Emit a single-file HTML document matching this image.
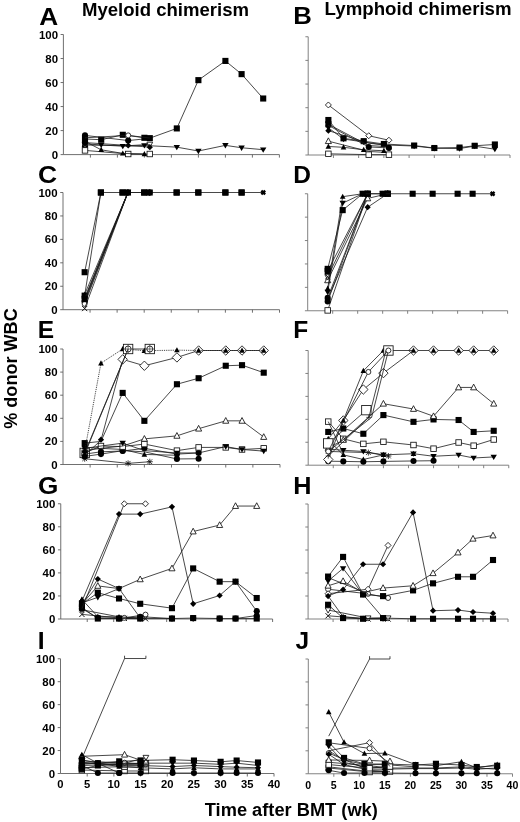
<!DOCTYPE html>
<html><head><meta charset="utf-8"><title>Chimerism figure</title>
<style>
html,body{margin:0;padding:0;background:#fff;}
body{width:520px;height:822px;overflow:hidden;}
svg{display:block;will-change:transform;}
text{font-family:"Liberation Sans",sans-serif;font-weight:bold;fill:#000;}
.t{font-size:10.6px;}
.L{font-size:24.5px;}
.T{font-size:17.6px;}
</style></head><body>
<svg width="520" height="822" viewBox="0 0 520 822">
<rect width="520" height="822" fill="#fff"/>
<g id="pA">
<path d="M63.4 34.5L63.4 154.6L279.4 154.6M60.6 154.6L63.4 154.6M60.6 130.58L63.4 130.58M60.6 106.56L63.4 106.56M60.6 82.54L63.4 82.54M60.6 58.52L63.4 58.52M60.6 34.5L63.4 34.5M90.4 154.6L90.4 157.6M117.4 154.6L117.4 157.6M144.4 154.6L144.4 157.6M171.4 154.6L171.4 157.6M198.4 154.6L198.4 157.6M225.4 154.6L225.4 157.6M252.4 154.6L252.4 157.6M279.4 154.6L279.4 157.6" stroke="#606060" stroke-width="0.9" fill="none"/>
<text class="t" transform="translate(58 158.65) scale(1.08 1)" text-anchor="end">0</text>
<text class="t" transform="translate(58 134.63) scale(1.08 1)" text-anchor="end">20</text>
<text class="t" transform="translate(58 110.61) scale(1.08 1)" text-anchor="end">40</text>
<text class="t" transform="translate(58 86.59) scale(1.08 1)" text-anchor="end">60</text>
<text class="t" transform="translate(58 62.57) scale(1.08 1)" text-anchor="end">80</text>
<text class="t" transform="translate(58 38.55) scale(1.08 1)" text-anchor="end">100</text>
<path d="M85 135.38L128.2 140.55L149.8 138.39" stroke="#1a1a1a" stroke-width="0.8" fill="none"/>
<circle cx="85" cy="135.38" r="3.05" fill="#000"/>
<circle cx="128.2" cy="140.55" r="3.05" fill="#000"/>
<circle cx="85" cy="138.99" r="3.05" fill="#000"/>
<circle cx="85" cy="146.19" r="3.05" fill="#000"/>
<path d="M85 144.99L128.2 145.71L149.8 144.39" stroke="#1a1a1a" stroke-width="0.8" fill="none"/>
<polygon points="85,148.01 82.1,142.81 87.9,142.81" fill="#fff" stroke="#111" stroke-width="0.85"/>
<polygon points="149.8,147.41 146.9,142.21 152.7,142.21" fill="#fff" stroke="#111" stroke-width="0.85"/>
<path d="M85 142.59L128.2 145.47L149.8 147.15" stroke="#1a1a1a" stroke-width="0.8" fill="none"/>
<polygon points="85,139.49 88.1,142.59 85,145.69 81.9,142.59" fill="#000"/>
<polygon points="128.2,142.37 131.3,145.47 128.2,148.57 125.1,145.47" fill="#000"/>
<polygon points="149.8,144.05 152.9,147.15 149.8,150.25 146.7,147.15" fill="#000"/>
<path d="M85 150.4L128.2 154L149.8 154" stroke="#1a1a1a" stroke-width="0.8" fill="none"/>
<rect x="82.25" y="147.65" width="5.5" height="5.5" fill="#fff" stroke="#111" stroke-width="0.85"/>
<rect x="125.45" y="151.25" width="5.5" height="5.5" fill="#fff" stroke="#111" stroke-width="0.85"/>
<rect x="147.05" y="151.25" width="5.5" height="5.5" fill="#fff" stroke="#111" stroke-width="0.85"/>
<path d="M85 141.39L101.2 149.8L122.8 153.4L144.4 154" stroke="#1a1a1a" stroke-width="0.8" fill="none"/>
<polygon points="85,138.37 82.2,143.57 87.8,143.57" fill="#000"/>
<polygon points="101.2,146.78 98.4,151.98 104,151.98" fill="#000"/>
<polygon points="122.8,150.38 120,155.58 125.6,155.58" fill="#000"/>
<polygon points="144.4,150.98 141.6,156.18 147.2,156.18" fill="#000"/>
<path d="M85 143.79L101.2 144.99L122.8 146.19L144.4 145.47L176.8 147.15L198.4 151L225.4 145.35L241.6 147.75L263.2 149.68" stroke="#1a1a1a" stroke-width="0.8" fill="none"/>
<polygon points="85,146.92 81.8,141.52 88.2,141.52" fill="#000"/>
<polygon points="101.2,148.12 98,142.72 104.4,142.72" fill="#000"/>
<polygon points="122.8,149.32 119.6,143.92 126,143.92" fill="#000"/>
<polygon points="144.4,148.6 141.2,143.2 147.6,143.2" fill="#000"/>
<polygon points="176.8,150.29 173.6,144.89 180,144.89" fill="#000"/>
<polygon points="198.4,154.13 195.2,148.73 201.6,148.73" fill="#000"/>
<polygon points="225.4,148.48 222.2,143.08 228.6,143.08" fill="#000"/>
<polygon points="241.6,150.89 238.4,145.49 244.8,145.49" fill="#000"/>
<polygon points="263.2,152.81 260,147.41 266.4,147.41" fill="#000"/>
<path d="M85 138.99L101.2 139.71L122.8 134.78L144.4 137.79L149.8 138.15L176.8 128.42L198.4 80.14L225.4 60.92L241.6 74.13L263.2 98.51" stroke="#1a1a1a" stroke-width="0.8" fill="none"/>
<rect x="81.95" y="135.94" width="6.1" height="6.1" fill="#000"/>
<rect x="98.15" y="136.66" width="6.1" height="6.1" fill="#000"/>
<rect x="119.75" y="131.73" width="6.1" height="6.1" fill="#000"/>
<rect x="141.35" y="134.74" width="6.1" height="6.1" fill="#000"/>
<rect x="146.75" y="135.1" width="6.1" height="6.1" fill="#000"/>
<rect x="173.75" y="125.37" width="6.1" height="6.1" fill="#000"/>
<rect x="195.35" y="77.09" width="6.1" height="6.1" fill="#000"/>
<rect x="222.35" y="57.87" width="6.1" height="6.1" fill="#000"/>
<rect x="238.55" y="71.08" width="6.1" height="6.1" fill="#000"/>
<rect x="260.15" y="95.46" width="6.1" height="6.1" fill="#000"/>
<path d="M85 137.79L128.2 135.38L149.8 138.03" stroke="#1a1a1a" stroke-width="0.8" fill="none"/>
<circle cx="128.2" cy="135.38" r="2.5" fill="#fff" stroke="#111" stroke-width="0.85"/>
<circle cx="85" cy="142.59" r="3.05" fill="#000"/>
</g>
<g id="pB">
<path d="M308.2 36.75L308.2 155L510 155M305.4 155L308.2 155M305.4 131.35L308.2 131.35M305.4 107.7L308.2 107.7M305.4 84.05L308.2 84.05M305.4 60.4L308.2 60.4M305.4 36.75L308.2 36.75M333.43 155L333.43 158M358.65 155L358.65 158M383.88 155L383.88 158M409.1 155L409.1 158M434.32 155L434.32 158M459.55 155L459.55 158M484.77 155L484.77 158M510 155L510 158" stroke="#747474" stroke-width="0.9" fill="none"/>
<path d="M328.38 104.98L368.74 135.73L388.92 140.22" stroke="#1a1a1a" stroke-width="0.8" fill="none"/>
<polygon points="328.38,101.98 331.38,104.98 328.38,107.98 325.38,104.98" fill="#fff" stroke="#111" stroke-width="0.85"/>
<polygon points="368.74,132.73 371.74,135.73 368.74,138.73 365.74,135.73" fill="#fff" stroke="#111" stroke-width="0.85"/>
<polygon points="388.92,137.22 391.92,140.22 388.92,143.22 385.92,140.22" fill="#fff" stroke="#111" stroke-width="0.85"/>
<path d="M328.38 130.64L368.74 143.18L388.92 145.54" stroke="#1a1a1a" stroke-width="0.8" fill="none"/>
<polygon points="328.38,127.54 331.48,130.64 328.38,133.74 325.28,130.64" fill="#000"/>
<path d="M328.38 141.16L368.74 151.45L388.92 152.63" stroke="#1a1a1a" stroke-width="0.8" fill="none"/>
<polygon points="328.38,137.86 325.33,143.56 331.43,143.56" fill="#fff" stroke="#111" stroke-width="0.85"/>
<path d="M328.38 153.82L368.74 154.65L388.92 154.65" stroke="#1a1a1a" stroke-width="0.8" fill="none"/>
<rect x="325.63" y="151.07" width="5.5" height="5.5" fill="#fff" stroke="#111" stroke-width="0.85"/>
<rect x="365.99" y="151.9" width="5.5" height="5.5" fill="#fff" stroke="#111" stroke-width="0.85"/>
<rect x="386.17" y="151.9" width="5.5" height="5.5" fill="#fff" stroke="#111" stroke-width="0.85"/>
<path d="M328.38 146.49L343.51 147.31L363.69 149.8L383.88 150.74" stroke="#1a1a1a" stroke-width="0.8" fill="none"/>
<polygon points="328.38,143.47 325.58,148.67 331.18,148.67" fill="#000"/>
<polygon points="343.51,144.3 340.71,149.5 346.31,149.5" fill="#000"/>
<polygon points="363.69,146.78 360.89,151.98 366.5,151.98" fill="#000"/>
<polygon points="383.88,147.73 381.07,152.93 386.68,152.93" fill="#000"/>
<path d="M328.38 127.8L343.51 139.04L363.69 141.99L383.88 144.95L414.14 146.01L434.32 148.26L459.55 148.5L474.68 146.13L494.87 149.21" stroke="#1a1a1a" stroke-width="0.8" fill="none"/>
<polygon points="328.38,130.93 325.18,125.53 331.58,125.53" fill="#000"/>
<polygon points="343.51,142.17 340.31,136.77 346.71,136.77" fill="#000"/>
<polygon points="363.69,145.12 360.5,139.72 366.89,139.72" fill="#000"/>
<polygon points="383.88,148.08 380.68,142.68 387.07,142.68" fill="#000"/>
<polygon points="414.14,149.15 410.94,143.75 417.34,143.75" fill="#000"/>
<polygon points="434.32,151.39 431.12,145.99 437.52,145.99" fill="#000"/>
<polygon points="459.55,151.63 456.35,146.23 462.75,146.23" fill="#000"/>
<polygon points="474.68,149.26 471.48,143.86 477.88,143.86" fill="#000"/>
<polygon points="494.87,152.34 491.67,146.94 498.06,146.94" fill="#000"/>
<path d="M328.38 120L343.51 138.33L363.69 141.16L383.88 144L414.14 145.54L434.32 148.02L459.55 147.55L474.68 145.78L494.87 144.48" stroke="#1a1a1a" stroke-width="0.8" fill="none"/>
<rect x="325.33" y="116.95" width="6.1" height="6.1" fill="#000"/>
<rect x="340.46" y="135.28" width="6.1" height="6.1" fill="#000"/>
<rect x="360.64" y="138.11" width="6.1" height="6.1" fill="#000"/>
<rect x="380.82" y="140.95" width="6.1" height="6.1" fill="#000"/>
<rect x="411.09" y="142.49" width="6.1" height="6.1" fill="#000"/>
<rect x="431.27" y="144.97" width="6.1" height="6.1" fill="#000"/>
<rect x="456.5" y="144.5" width="6.1" height="6.1" fill="#000"/>
<rect x="471.63" y="142.73" width="6.1" height="6.1" fill="#000"/>
<rect x="491.81" y="141.43" width="6.1" height="6.1" fill="#000"/>
<path d="M328.38 124.25L368.74 145.54L388.92 146.72" stroke="#1a1a1a" stroke-width="0.8" fill="none"/>
<rect x="325.33" y="121.2" width="6.1" height="6.1" fill="#000"/>
<path d="M328.38 125.44L368.74 146.96L388.92 147.91" stroke="#1a1a1a" stroke-width="0.8" fill="none"/>
<circle cx="368.74" cy="146.96" r="3.05" fill="#000"/>
<circle cx="388.92" cy="147.91" r="3.05" fill="#000"/>
</g>
<g id="pC">
<path d="M63 192.5L63 309.7L279.5 309.7M60.2 309.7L63 309.7M60.2 286.26L63 286.26M60.2 262.82L63 262.82M60.2 239.38L63 239.38M60.2 215.94L63 215.94M60.2 192.5L63 192.5M90.06 309.7L90.06 312.7M117.12 309.7L117.12 312.7M144.19 309.7L144.19 312.7M171.25 309.7L171.25 312.7M198.31 309.7L198.31 312.7M225.38 309.7L225.38 312.7M252.44 309.7L252.44 312.7M279.5 309.7L279.5 312.7" stroke="#606060" stroke-width="0.9" fill="none"/>
<text class="t" transform="translate(57.6 313.75) scale(1.08 1)" text-anchor="end">0</text>
<text class="t" transform="translate(57.6 290.31) scale(1.08 1)" text-anchor="end">20</text>
<text class="t" transform="translate(57.6 266.87) scale(1.08 1)" text-anchor="end">40</text>
<text class="t" transform="translate(57.6 243.43) scale(1.08 1)" text-anchor="end">60</text>
<text class="t" transform="translate(57.6 219.99) scale(1.08 1)" text-anchor="end">80</text>
<text class="t" transform="translate(57.6 196.55) scale(1.08 1)" text-anchor="end">100</text>
<path d="M84.65 294.46L127.95 192.5L149.6 192.5" stroke="#1a1a1a" stroke-width="0.8" fill="none"/>
<polygon points="84.65,291.45 81.85,296.65 87.45,296.65" fill="#000"/>
<polygon points="127.95,189.48 125.15,194.68 130.75,194.68" fill="#000"/>
<polygon points="149.6,189.48 146.8,194.68 152.4,194.68" fill="#000"/>
<path d="M84.65 297.98L127.95 192.5" stroke="#1a1a1a" stroke-width="0.8" fill="none"/>
<polygon points="84.65,301.11 81.45,295.71 87.85,295.71" fill="#000"/>
<polygon points="127.95,195.63 124.75,190.23 131.15,190.23" fill="#000"/>
<polygon points="149.6,195.63 146.4,190.23 152.8,190.23" fill="#000"/>
<path d="M84.65 300.32L127.95 192.5" stroke="#1a1a1a" stroke-width="0.8" fill="none"/>
<polygon points="84.65,297.22 87.75,300.32 84.65,303.42 81.55,300.32" fill="#000"/>
<polygon points="127.95,189.4 131.05,192.5 127.95,195.6 124.85,192.5" fill="#000"/>
<polygon points="149.6,189.4 152.7,192.5 149.6,195.6 146.5,192.5" fill="#000"/>
<path d="M84.65 302.08L127.95 192.5" stroke="#1a1a1a" stroke-width="0.8" fill="none"/>
<circle cx="84.65" cy="302.08" r="3.05" fill="#000"/>
<circle cx="127.95" cy="192.5" r="3.05" fill="#000"/>
<circle cx="149.6" cy="192.5" r="3.05" fill="#000"/>
<path d="M84.65 303.84L127.95 192.5" stroke="#1a1a1a" stroke-width="0.8" fill="none"/>
<circle cx="84.65" cy="303.84" r="2.5" fill="#fff" stroke="#111" stroke-width="0.85"/>
<circle cx="127.95" cy="192.5" r="2.5" fill="#fff" stroke="#111" stroke-width="0.85"/>
<circle cx="149.6" cy="192.5" r="2.5" fill="#fff" stroke="#111" stroke-width="0.85"/>
<path d="M84.65 308.53L127.95 192.5" stroke="#1a1a1a" stroke-width="0.8" fill="none"/>
<path d="M82.05 305.93L87.25 311.13M82.05 311.13L87.25 305.93" stroke="#111" stroke-width="1" fill="none"/>
<path d="M125.35 189.9L130.55 195.1M125.35 195.1L130.55 189.9" stroke="#111" stroke-width="1" fill="none"/>
<path d="M147 189.9L152.2 195.1M147 195.1L152.2 189.9" stroke="#111" stroke-width="1" fill="none"/>
<path d="M84.65 295.64L100.89 192.5L122.54 192.5L144.19 192.5L176.66 192.5L198.31 192.5L225.38 192.5L241.61 192.5L263.26 192.5" stroke="#1a1a1a" stroke-width="0.8" fill="none"/>
<rect x="81.6" y="292.59" width="6.1" height="6.1" fill="#000"/>
<rect x="97.84" y="189.45" width="6.1" height="6.1" fill="#000"/>
<rect x="119.49" y="189.45" width="6.1" height="6.1" fill="#000"/>
<rect x="141.14" y="189.45" width="6.1" height="6.1" fill="#000"/>
<rect x="173.61" y="189.45" width="6.1" height="6.1" fill="#000"/>
<rect x="195.26" y="189.45" width="6.1" height="6.1" fill="#000"/>
<rect x="222.32" y="189.45" width="6.1" height="6.1" fill="#000"/>
<rect x="238.56" y="189.45" width="6.1" height="6.1" fill="#000"/>
<path d="M84.65 272.2L100.89 192.5" stroke="#1a1a1a" stroke-width="0.8" fill="none"/>
<rect x="81.6" y="269.15" width="6.1" height="6.1" fill="#000"/>
<rect x="97.84" y="189.45" width="6.1" height="6.1" fill="#000"/>
<rect x="119.49" y="189.45" width="6.1" height="6.1" fill="#000"/>
<rect x="141.14" y="189.45" width="6.1" height="6.1" fill="#000"/>
<rect x="173.61" y="189.45" width="6.1" height="6.1" fill="#000"/>
<rect x="195.26" y="189.45" width="6.1" height="6.1" fill="#000"/>
<rect x="222.32" y="189.45" width="6.1" height="6.1" fill="#000"/>
<rect x="238.56" y="189.45" width="6.1" height="6.1" fill="#000"/>
<path d="M84.65 299.15L127.95 192.5" stroke="#1a1a1a" stroke-width="0.8" fill="none"/>
<rect x="81.6" y="296.1" width="6.1" height="6.1" fill="#000"/>
<rect x="124.9" y="189.45" width="6.1" height="6.1" fill="#000"/>
<rect x="146.55" y="189.45" width="6.1" height="6.1" fill="#000"/>
<path d="M261.36 190.6L265.16 194.4M261.36 194.4L265.16 190.6" stroke="#000" stroke-width="2.3" fill="none"/>
</g>
<g id="pD">
<path d="M307.7 193.75L307.7 310.75L507.6 310.75M304.9 310.75L307.7 310.75M304.9 287.35L307.7 287.35M304.9 263.95L307.7 263.95M304.9 240.55L307.7 240.55M304.9 217.15L307.7 217.15M304.9 193.75L307.7 193.75M332.69 310.75L332.69 313.75M357.68 310.75L357.68 313.75M382.66 310.75L382.66 313.75M407.65 310.75L407.65 313.75M432.64 310.75L432.64 313.75M457.62 310.75L457.62 313.75M482.61 310.75L482.61 313.75M507.6 310.75L507.6 313.75" stroke="#747474" stroke-width="0.9" fill="none"/>
<path d="M327.69 310.4L367.67 193.75L387.66 193.75" stroke="#1a1a1a" stroke-width="0.8" fill="none"/>
<rect x="324.94" y="307.65" width="5.5" height="5.5" fill="#fff" stroke="#111" stroke-width="0.85"/>
<rect x="364.92" y="191" width="5.5" height="5.5" fill="#fff" stroke="#111" stroke-width="0.85"/>
<rect x="384.91" y="191" width="5.5" height="5.5" fill="#fff" stroke="#111" stroke-width="0.85"/>
<path d="M327.69 301.39L367.67 193.75" stroke="#1a1a1a" stroke-width="0.8" fill="none"/>
<circle cx="327.69" cy="301.39" r="3.05" fill="#000"/>
<circle cx="367.67" cy="193.75" r="3.05" fill="#000"/>
<circle cx="387.66" cy="193.75" r="3.05" fill="#000"/>
<path d="M327.69 297.88L367.67 193.75" stroke="#1a1a1a" stroke-width="0.8" fill="none"/>
<circle cx="327.69" cy="297.88" r="3.05" fill="#000"/>
<circle cx="367.67" cy="193.75" r="3.05" fill="#000"/>
<circle cx="387.66" cy="193.75" r="3.05" fill="#000"/>
<path d="M327.69 299.05L367.67 207.21L387.66 193.75" stroke="#1a1a1a" stroke-width="0.8" fill="none"/>
<polygon points="327.69,295.95 330.79,299.05 327.69,302.15 324.59,299.05" fill="#000"/>
<polygon points="367.67,204.11 370.77,207.21 367.67,210.31 364.57,207.21" fill="#000"/>
<polygon points="387.66,190.65 390.76,193.75 387.66,196.85 384.56,193.75" fill="#000"/>
<path d="M327.69 280.33L367.67 198.43L387.66 193.75" stroke="#1a1a1a" stroke-width="0.8" fill="none"/>
<polygon points="327.69,277.02 324.64,282.72 330.74,282.72" fill="#fff" stroke="#111" stroke-width="0.85"/>
<polygon points="367.67,195.12 364.62,200.82 370.72,200.82" fill="#fff" stroke="#111" stroke-width="0.85"/>
<polygon points="387.66,190.44 384.61,196.14 390.71,196.14" fill="#fff" stroke="#111" stroke-width="0.85"/>
<path d="M327.69 276.82L367.67 193.75" stroke="#1a1a1a" stroke-width="0.8" fill="none"/>
<polygon points="327.69,279.84 324.79,274.64 330.59,274.64" fill="#fff" stroke="#111" stroke-width="0.85"/>
<polygon points="367.67,196.77 364.77,191.57 370.57,191.57" fill="#fff" stroke="#111" stroke-width="0.85"/>
<polygon points="387.66,196.77 384.76,191.57 390.56,191.57" fill="#fff" stroke="#111" stroke-width="0.85"/>
<path d="M325.09 274.22L330.29 279.42M325.09 279.42L330.29 274.22" stroke="#111" stroke-width="1" fill="none"/>
<path d="M365.07 191.15L370.27 196.35M365.07 196.35L370.27 191.15" stroke="#111" stroke-width="1" fill="none"/>
<path d="M385.06 191.15L390.26 196.35M385.06 196.35L390.26 191.15" stroke="#111" stroke-width="1" fill="none"/>
<path d="M327.69 270.97L367.67 193.75" stroke="#1a1a1a" stroke-width="0.8" fill="none"/>
<rect x="324.64" y="267.92" width="6.1" height="6.1" fill="#000"/>
<rect x="364.62" y="190.7" width="6.1" height="6.1" fill="#000"/>
<rect x="384.61" y="190.7" width="6.1" height="6.1" fill="#000"/>
<path d="M327.69 292.03L342.68 203.11L362.67 193.75L382.66 193.75" stroke="#1a1a1a" stroke-width="0.8" fill="none"/>
<polygon points="327.69,295.16 324.49,289.76 330.89,289.76" fill="#000"/>
<polygon points="342.68,206.24 339.48,200.84 345.88,200.84" fill="#000"/>
<polygon points="362.67,196.88 359.47,191.48 365.87,191.48" fill="#000"/>
<polygon points="382.66,196.88 379.46,191.48 385.86,191.48" fill="#000"/>
<path d="M327.69 288.52L342.68 196.68L362.67 193.75" stroke="#1a1a1a" stroke-width="0.8" fill="none"/>
<polygon points="327.69,285.5 324.89,290.7 330.49,290.7" fill="#000"/>
<polygon points="342.68,193.66 339.88,198.86 345.48,198.86" fill="#000"/>
<polygon points="362.67,190.73 359.87,195.93 365.47,195.93" fill="#000"/>
<polygon points="382.66,190.73 379.86,195.93 385.46,195.93" fill="#000"/>
<path d="M327.69 268.86L342.68 210.13L362.67 193.75M382.66 193.75L412.65 193.75L432.64 193.75L457.62 193.75L472.62 193.75L492.61 193.75" stroke="#1a1a1a" stroke-width="0.8" fill="none"/>
<rect x="324.64" y="265.81" width="6.1" height="6.1" fill="#000"/>
<rect x="339.63" y="207.08" width="6.1" height="6.1" fill="#000"/>
<rect x="359.62" y="190.7" width="6.1" height="6.1" fill="#000"/>
<rect x="379.61" y="190.7" width="6.1" height="6.1" fill="#000"/>
<rect x="409.6" y="190.7" width="6.1" height="6.1" fill="#000"/>
<rect x="429.59" y="190.7" width="6.1" height="6.1" fill="#000"/>
<rect x="454.57" y="190.7" width="6.1" height="6.1" fill="#000"/>
<rect x="469.57" y="190.7" width="6.1" height="6.1" fill="#000"/>
<path d="M490.71 191.85L494.51 195.65M490.71 195.65L494.51 191.85" stroke="#000" stroke-width="2.3" fill="none"/>
</g>
<g id="pE">
<path d="M63 349L63 464.5L280 464.5M60.2 464.5L63 464.5M60.2 441.4L63 441.4M60.2 418.3L63 418.3M60.2 395.2L63 395.2M60.2 372.1L63 372.1M60.2 349L63 349M90.12 464.5L90.12 467.5M117.25 464.5L117.25 467.5M144.38 464.5L144.38 467.5M171.5 464.5L171.5 467.5M198.62 464.5L198.62 467.5M225.75 464.5L225.75 467.5M252.88 464.5L252.88 467.5M280 464.5L280 467.5" stroke="#606060" stroke-width="0.9" fill="none"/>
<text class="t" transform="translate(57.6 468.55) scale(1.08 1)" text-anchor="end">0</text>
<text class="t" transform="translate(57.6 445.45) scale(1.08 1)" text-anchor="end">20</text>
<text class="t" transform="translate(57.6 422.35) scale(1.08 1)" text-anchor="end">40</text>
<text class="t" transform="translate(57.6 399.25) scale(1.08 1)" text-anchor="end">60</text>
<text class="t" transform="translate(57.6 376.15) scale(1.08 1)" text-anchor="end">80</text>
<text class="t" transform="translate(57.6 353.05) scale(1.08 1)" text-anchor="end">100</text>
<rect x="80" y="448.25" width="9.4" height="9.4" fill="#fff" stroke="#111" stroke-width="0.85"/>
<path d="M84.7 458.73L128.1 463.35L149.8 461.73" stroke="#1a1a1a" stroke-width="0.8" fill="none"/>
<path d="M82.3 456.33L87.1 461.12M82.3 461.12L87.1 456.33M84.7 455.73L84.7 461.73M81.7 458.73L87.7 458.73" stroke="#111" stroke-width="0.8" fill="none"/>
<path d="M125.7 460.95L130.5 465.75M125.7 465.75L130.5 460.95M128.1 460.35L128.1 466.35M125.1 463.35L131.1 463.35" stroke="#111" stroke-width="0.8" fill="none"/>
<path d="M147.4 459.33L152.2 464.13M147.4 464.13L152.2 459.33M149.8 458.73L149.8 464.73M146.8 461.73L152.8 461.73" stroke="#111" stroke-width="0.8" fill="none"/>
<path d="M84.7 456.42L100.97 454.11L122.67 450.64L144.38 451.8L176.93 458.96L198.62 458.73" stroke="#1a1a1a" stroke-width="0.8" fill="none"/>
<circle cx="84.7" cy="456.42" r="3.05" fill="#000"/>
<circle cx="100.97" cy="454.11" r="3.05" fill="#000"/>
<circle cx="122.67" cy="450.64" r="3.05" fill="#000"/>
<circle cx="176.93" cy="458.96" r="3.05" fill="#000"/>
<circle cx="198.62" cy="458.73" r="3.05" fill="#000"/>
<path d="M84.7 454.11L100.97 451.8L122.67 450.99L144.38 448.33L176.93 454.11L198.62 452.95" stroke="#1a1a1a" stroke-width="0.8" fill="none"/>
<circle cx="84.7" cy="454.11" r="3.05" fill="#000"/>
<circle cx="100.97" cy="451.8" r="3.05" fill="#000"/>
<circle cx="122.67" cy="450.99" r="3.05" fill="#000"/>
<circle cx="144.38" cy="448.33" r="3.05" fill="#000"/>
<circle cx="176.93" cy="454.11" r="3.05" fill="#000"/>
<circle cx="198.62" cy="452.95" r="3.05" fill="#000"/>
<path d="M84.7 447.18L100.97 448.33L122.67 449.49L144.38 454.45L176.93 455.26" stroke="#1a1a1a" stroke-width="0.8" fill="none"/>
<polygon points="84.7,444.16 81.9,449.36 87.5,449.36" fill="#000"/>
<polygon points="144.38,451.44 141.57,456.64 147.18,456.64" fill="#000"/>
<polygon points="176.93,452.24 174.12,457.44 179.73,457.44" fill="#000"/>
<path d="M84.7 452.95L100.97 446.02L122.67 446.6L144.38 444.06L176.93 450.64L198.62 447.41L225.75 447.41L242.03 449.49L263.73 448.33" stroke="#1a1a1a" stroke-width="0.8" fill="none"/>
<rect x="81.95" y="450.2" width="5.5" height="5.5" fill="#fff" stroke="#111" stroke-width="0.85"/>
<rect x="98.22" y="443.27" width="5.5" height="5.5" fill="#fff" stroke="#111" stroke-width="0.85"/>
<rect x="119.92" y="443.85" width="5.5" height="5.5" fill="#fff" stroke="#111" stroke-width="0.85"/>
<rect x="141.62" y="441.31" width="5.5" height="5.5" fill="#fff" stroke="#111" stroke-width="0.85"/>
<rect x="174.18" y="447.89" width="5.5" height="5.5" fill="#fff" stroke="#111" stroke-width="0.85"/>
<rect x="195.88" y="444.66" width="5.5" height="5.5" fill="#fff" stroke="#111" stroke-width="0.85"/>
<rect x="223" y="444.66" width="5.5" height="5.5" fill="#fff" stroke="#111" stroke-width="0.85"/>
<rect x="239.28" y="446.74" width="5.5" height="5.5" fill="#fff" stroke="#111" stroke-width="0.85"/>
<rect x="260.98" y="445.58" width="5.5" height="5.5" fill="#fff" stroke="#111" stroke-width="0.85"/>
<path d="M84.7 448.33L100.97 446.02L122.67 443.13L144.38 450.64L176.93 452.95L198.62 452.95L225.75 446.6L242.03 449.49L263.73 451.1" stroke="#1a1a1a" stroke-width="0.8" fill="none"/>
<polygon points="84.7,451.46 81.5,446.06 87.9,446.06" fill="#000"/>
<polygon points="122.67,446.26 119.47,440.86 125.88,440.86" fill="#000"/>
<polygon points="176.93,456.08 173.73,450.68 180.12,450.68" fill="#000"/>
<polygon points="198.62,456.08 195.43,450.68 201.82,450.68" fill="#000"/>
<polygon points="225.75,449.73 222.55,444.33 228.95,444.33" fill="#000"/>
<polygon points="242.03,452.62 238.83,447.22 245.22,447.22" fill="#000"/>
<polygon points="263.73,454.23 260.53,448.83 266.93,448.83" fill="#000"/>
<path d="M84.7 450.64L100.97 448.33L122.67 446.02L144.38 438.86L176.93 435.86L198.62 428.69L225.75 420.84L242.03 420.84L263.73 437.01" stroke="#1a1a1a" stroke-width="0.8" fill="none"/>
<polygon points="144.38,435.55 141.32,441.25 147.43,441.25" fill="#fff" stroke="#111" stroke-width="0.85"/>
<polygon points="176.93,432.55 173.88,438.25 179.98,438.25" fill="#fff" stroke="#111" stroke-width="0.85"/>
<polygon points="198.62,425.39 195.57,431.09 201.68,431.09" fill="#fff" stroke="#111" stroke-width="0.85"/>
<polygon points="225.75,417.54 222.7,423.24 228.8,423.24" fill="#fff" stroke="#111" stroke-width="0.85"/>
<polygon points="242.03,417.54 238.97,423.24 245.08,423.24" fill="#fff" stroke="#111" stroke-width="0.85"/>
<polygon points="263.73,433.71 260.68,439.41 266.78,439.41" fill="#fff" stroke="#111" stroke-width="0.85"/>
<path d="M84.7 443.13L100.97 441.4L122.67 392.89L144.38 420.84L176.93 384.23L198.62 378.22L225.75 365.75L242.03 365.17L263.73 372.68" stroke="#1a1a1a" stroke-width="0.8" fill="none"/>
<rect x="81.65" y="440.08" width="6.1" height="6.1" fill="#000"/>
<rect x="119.62" y="389.84" width="6.1" height="6.1" fill="#000"/>
<rect x="141.32" y="417.79" width="6.1" height="6.1" fill="#000"/>
<rect x="173.88" y="381.18" width="6.1" height="6.1" fill="#000"/>
<rect x="195.57" y="375.17" width="6.1" height="6.1" fill="#000"/>
<rect x="222.7" y="362.7" width="6.1" height="6.1" fill="#000"/>
<rect x="238.97" y="362.12" width="6.1" height="6.1" fill="#000"/>
<rect x="260.68" y="369.63" width="6.1" height="6.1" fill="#000"/>
<path d="M84.7 455.26L100.97 440.25L122.67 359.39L144.38 365.75L176.93 357.43L198.62 350.5L225.75 350.5L242.03 350.5L263.73 350.5" stroke="#1a1a1a" stroke-width="0.8" fill="none"/>
<polygon points="122.67,354.69 127.38,359.39 122.67,364.09 117.97,359.39" fill="#fff" stroke="#111" stroke-width="0.85"/>
<polygon points="144.38,361.05 149.07,365.75 144.38,370.45 139.68,365.75" fill="#fff" stroke="#111" stroke-width="0.85"/>
<polygon points="176.93,352.73 181.62,357.43 176.93,362.13 172.23,357.43" fill="#fff" stroke="#111" stroke-width="0.85"/>
<polygon points="198.62,345.8 203.32,350.5 198.62,355.2 193.93,350.5" fill="#fff" stroke="#111" stroke-width="0.85"/>
<polygon points="225.75,345.8 230.45,350.5 225.75,355.2 221.05,350.5" fill="#fff" stroke="#111" stroke-width="0.85"/>
<polygon points="242.03,345.8 246.72,350.5 242.03,355.2 237.33,350.5" fill="#fff" stroke="#111" stroke-width="0.85"/>
<polygon points="263.73,345.8 268.43,350.5 263.73,355.2 259.03,350.5" fill="#fff" stroke="#111" stroke-width="0.85"/>
<path d="M84.7 450.64L100.97 363.21L122.67 349L144.38 350.73L176.93 350.15L198.62 350.5L225.75 350.5L242.03 350.5L263.73 350.5" stroke="#1a1a1a" stroke-width="0.8" fill="none" stroke-dasharray="1.2 1"/>
<polygon points="84.7,447.62 81.9,452.82 87.5,452.82" fill="#000"/>
<polygon points="100.97,360.19 98.17,365.39 103.77,365.39" fill="#000"/>
<polygon points="122.67,345.98 119.88,351.18 125.47,351.18" fill="#000"/>
<polygon points="144.38,347.72 141.57,352.92 147.18,352.92" fill="#000"/>
<polygon points="176.93,347.14 174.12,352.34 179.73,352.34" fill="#000"/>
<polygon points="198.62,347.49 195.82,352.69 201.43,352.69" fill="#000"/>
<polygon points="225.75,347.49 222.95,352.69 228.55,352.69" fill="#000"/>
<polygon points="242.03,347.49 239.22,352.69 244.83,352.69" fill="#000"/>
<polygon points="263.73,347.49 260.93,352.69 266.53,352.69" fill="#000"/>
<path d="M84.7 452.95L128.1 349L149.8 349" stroke="#1a1a1a" stroke-width="0.8" fill="none"/>
<rect x="123.4" y="344.3" width="9.4" height="9.4" fill="#fff" stroke="#111" stroke-width="0.85"/>
<rect x="145.1" y="344.3" width="9.4" height="9.4" fill="#fff" stroke="#111" stroke-width="0.85"/>
<path d="M84.7 454.11L128.1 349" stroke="#1a1a1a" stroke-width="0.8" fill="none"/>
<path d="M128.1 344.4L128.1 353.6M123.5 349L132.7 349" stroke="#222" stroke-width="0.6" fill="none"/><circle cx="128.1" cy="349" r="3.0" fill="none" stroke="#111" stroke-width="0.85"/>
<path d="M149.8 344.4L149.8 353.6M145.2 349L154.4 349" stroke="#222" stroke-width="0.6" fill="none"/><circle cx="149.8" cy="349" r="3.0" fill="none" stroke="#111" stroke-width="0.85"/>
<polygon points="100.97,436.57 104.07,439.67 100.97,442.77 97.88,439.67" fill="#000"/>
<polygon points="84.7,452.16 87.8,455.26 84.7,458.36 81.6,455.26" fill="#000"/>
<polygon points="84.7,448.69 87.8,451.8 84.7,454.9 81.6,451.8" fill="#000"/>
</g>
<g id="pF">
<path d="M308.2 350.5L308.2 465.2L508.75 465.2M305.4 465.2L308.2 465.2M305.4 442.26L308.2 442.26M305.4 419.32L308.2 419.32M305.4 396.38L308.2 396.38M305.4 373.44L308.2 373.44M305.4 350.5L308.2 350.5M333.27 465.2L333.27 468.2M358.34 465.2L358.34 468.2M383.41 465.2L383.41 468.2M408.48 465.2L408.48 468.2M433.54 465.2L433.54 468.2M458.61 465.2L458.61 468.2M483.68 465.2L483.68 468.2M508.75 465.2L508.75 468.2" stroke="#747474" stroke-width="0.9" fill="none"/>
<path d="M328.25 461.19L343.3 461.41L363.35 461.76L383.41 461.41L413.49 460.96L433.54 460.73" stroke="#1a1a1a" stroke-width="0.8" fill="none"/>
<circle cx="328.25" cy="461.19" r="3.05" fill="#000"/>
<circle cx="343.3" cy="461.41" r="3.05" fill="#000"/>
<circle cx="363.35" cy="461.76" r="3.05" fill="#000"/>
<circle cx="383.41" cy="461.41" r="3.05" fill="#000"/>
<circle cx="413.49" cy="460.96" r="3.05" fill="#000"/>
<circle cx="433.54" cy="460.73" r="3.05" fill="#000"/>
<path d="M328.25 451.44L368.37 452.58L388.42 456.02" stroke="#1a1a1a" stroke-width="0.8" fill="none"/>
<path d="M325.86 449.04L330.65 453.84M325.86 453.84L330.65 449.04M328.25 448.44L328.25 454.44M325.25 451.44L331.25 451.44" stroke="#111" stroke-width="0.8" fill="none"/>
<path d="M365.97 450.18L370.76 454.98M365.97 454.98L370.76 450.18M368.37 449.58L368.37 455.58M365.37 452.58L371.37 452.58" stroke="#111" stroke-width="0.8" fill="none"/>
<path d="M386.02 453.62L390.82 458.42M386.02 458.42L390.82 453.62M388.42 453.02L388.42 459.02M385.42 456.02L391.42 456.02" stroke="#111" stroke-width="0.8" fill="none"/>
<path d="M328.25 439.97L343.3 454.88L363.35 459.46L383.41 454.88L413.49 453.73" stroke="#1a1a1a" stroke-width="0.8" fill="none"/>
<polygon points="328.25,436.95 325.45,442.15 331.06,442.15" fill="#000"/>
<polygon points="343.3,451.86 340.5,457.06 346.1,457.06" fill="#000"/>
<polygon points="363.35,456.45 360.55,461.65 366.15,461.65" fill="#000"/>
<polygon points="383.41,451.86 380.61,457.06 386.21,457.06" fill="#000"/>
<polygon points="413.49,450.71 410.69,455.91 416.29,455.91" fill="#000"/>
<path d="M328.25 449.14L343.3 450.29L363.35 451.44L383.41 454.88M413.49 453.73L433.54 456.25L458.61 454.99L473.65 457.97L493.71 456.94" stroke="#1a1a1a" stroke-width="0.8" fill="none"/>
<polygon points="328.25,452.27 325.06,446.87 331.45,446.87" fill="#000"/>
<polygon points="343.3,453.42 340.1,448.02 346.5,448.02" fill="#000"/>
<polygon points="363.35,454.57 360.15,449.17 366.55,449.17" fill="#000"/>
<polygon points="383.41,458.01 380.21,452.61 386.61,452.61" fill="#000"/>
<polygon points="413.49,456.86 410.29,451.46 416.69,451.46" fill="#000"/>
<polygon points="433.54,459.39 430.34,453.99 436.74,453.99" fill="#000"/>
<polygon points="458.61,458.12 455.41,452.72 461.81,452.72" fill="#000"/>
<polygon points="473.65,461.11 470.45,455.71 476.85,455.71" fill="#000"/>
<polygon points="493.71,460.07 490.51,454.67 496.91,454.67" fill="#000"/>
<path d="M328.25 421.61L343.3 438.82L363.35 443.87L383.41 441.8L413.49 445.01L433.54 448.68L458.61 442.49L473.65 445.7L493.71 439.51" stroke="#1a1a1a" stroke-width="0.8" fill="none"/>
<rect x="325.5" y="418.86" width="5.5" height="5.5" fill="#fff" stroke="#111" stroke-width="0.85"/>
<rect x="340.55" y="436.07" width="5.5" height="5.5" fill="#fff" stroke="#111" stroke-width="0.85"/>
<rect x="360.6" y="441.12" width="5.5" height="5.5" fill="#fff" stroke="#111" stroke-width="0.85"/>
<rect x="380.66" y="439.05" width="5.5" height="5.5" fill="#fff" stroke="#111" stroke-width="0.85"/>
<rect x="410.74" y="442.26" width="5.5" height="5.5" fill="#fff" stroke="#111" stroke-width="0.85"/>
<rect x="430.79" y="445.93" width="5.5" height="5.5" fill="#fff" stroke="#111" stroke-width="0.85"/>
<rect x="455.86" y="439.74" width="5.5" height="5.5" fill="#fff" stroke="#111" stroke-width="0.85"/>
<rect x="470.9" y="442.95" width="5.5" height="5.5" fill="#fff" stroke="#111" stroke-width="0.85"/>
<rect x="490.96" y="436.76" width="5.5" height="5.5" fill="#fff" stroke="#111" stroke-width="0.85"/>
<path d="M328.25 431.94L343.3 428.5L363.35 433.77L383.41 415.08L413.49 421.84L433.54 419.43L458.61 420.01L473.65 431.94L493.71 430.79" stroke="#1a1a1a" stroke-width="0.8" fill="none"/>
<rect x="325.2" y="428.89" width="6.1" height="6.1" fill="#000"/>
<rect x="340.25" y="425.45" width="6.1" height="6.1" fill="#000"/>
<rect x="360.3" y="430.72" width="6.1" height="6.1" fill="#000"/>
<rect x="380.36" y="412.03" width="6.1" height="6.1" fill="#000"/>
<rect x="410.44" y="418.79" width="6.1" height="6.1" fill="#000"/>
<rect x="430.49" y="416.38" width="6.1" height="6.1" fill="#000"/>
<rect x="455.56" y="416.96" width="6.1" height="6.1" fill="#000"/>
<rect x="470.6" y="428.89" width="6.1" height="6.1" fill="#000"/>
<rect x="490.66" y="427.74" width="6.1" height="6.1" fill="#000"/>
<path d="M328.25 448L343.3 439.97L383.41 403.72L413.49 409L433.54 416.22L458.61 387.43L473.65 387.43L493.71 403.72" stroke="#1a1a1a" stroke-width="0.8" fill="none"/>
<polygon points="328.25,444.69 325.2,450.39 331.31,450.39" fill="#fff" stroke="#111" stroke-width="0.85"/>
<polygon points="343.3,436.66 340.25,442.36 346.35,442.36" fill="#fff" stroke="#111" stroke-width="0.85"/>
<polygon points="383.41,400.41 380.36,406.11 386.46,406.11" fill="#fff" stroke="#111" stroke-width="0.85"/>
<polygon points="413.49,405.69 410.44,411.39 416.54,411.39" fill="#fff" stroke="#111" stroke-width="0.85"/>
<polygon points="433.54,412.92 430.49,418.62 436.59,418.62" fill="#fff" stroke="#111" stroke-width="0.85"/>
<polygon points="458.61,384.13 455.56,389.83 461.66,389.83" fill="#fff" stroke="#111" stroke-width="0.85"/>
<polygon points="473.65,384.13 470.6,389.83 476.7,389.83" fill="#fff" stroke="#111" stroke-width="0.85"/>
<polygon points="493.71,400.41 490.66,406.11 496.76,406.11" fill="#fff" stroke="#111" stroke-width="0.85"/>
<path d="M328.25 459.46L343.3 420.47L363.35 389.5L383.41 373.1L413.49 350.5L433.54 350.5L458.61 350.5L473.65 350.5L493.71 350.5" stroke="#1a1a1a" stroke-width="0.8" fill="none"/>
<polygon points="328.25,454.76 332.95,459.46 328.25,464.16 323.56,459.46" fill="#fff" stroke="#111" stroke-width="0.85"/>
<polygon points="343.3,415.77 348,420.47 343.3,425.17 338.6,420.47" fill="#fff" stroke="#111" stroke-width="0.85"/>
<polygon points="363.35,384.8 368.05,389.5 363.35,394.2 358.65,389.5" fill="#fff" stroke="#111" stroke-width="0.85"/>
<polygon points="383.41,368.4 388.11,373.1 383.41,377.8 378.71,373.1" fill="#fff" stroke="#111" stroke-width="0.85"/>
<polygon points="413.49,345.8 418.19,350.5 413.49,355.2 408.79,350.5" fill="#fff" stroke="#111" stroke-width="0.85"/>
<polygon points="433.54,345.8 438.24,350.5 433.54,355.2 428.84,350.5" fill="#fff" stroke="#111" stroke-width="0.85"/>
<polygon points="458.61,345.8 463.31,350.5 458.61,355.2 453.91,350.5" fill="#fff" stroke="#111" stroke-width="0.85"/>
<polygon points="473.65,345.8 478.35,350.5 473.65,355.2 468.95,350.5" fill="#fff" stroke="#111" stroke-width="0.85"/>
<polygon points="493.71,345.8 498.41,350.5 493.71,355.2 489.01,350.5" fill="#fff" stroke="#111" stroke-width="0.85"/>
<path d="M328.25 438.82L343.3 420.47L363.35 370.8L383.41 350.5L413.49 350.5" stroke="#1a1a1a" stroke-width="0.8" fill="none"/>
<polygon points="328.25,435.8 325.45,441 331.06,441" fill="#000"/>
<polygon points="343.3,417.45 340.5,422.65 346.1,422.65" fill="#000"/>
<polygon points="363.35,367.79 360.55,372.99 366.15,372.99" fill="#000"/>
<polygon points="383.41,347.48 380.61,352.68 386.21,352.68" fill="#000"/>
<polygon points="413.49,347.48 410.69,352.68 416.29,352.68" fill="#000"/>
<polygon points="433.54,347.48 430.74,352.68 436.34,352.68" fill="#000"/>
<polygon points="458.61,347.48 455.81,352.68 461.41,352.68" fill="#000"/>
<polygon points="473.65,347.48 470.85,352.68 476.45,352.68" fill="#000"/>
<polygon points="493.71,347.48 490.91,352.68 496.51,352.68" fill="#000"/>
<path d="M328.25 443.41L366.36 410.14" stroke="#1a1a1a" stroke-width="0.8" fill="none"/>
<rect x="323.56" y="438.71" width="9.4" height="9.4" fill="#fff" stroke="#111" stroke-width="0.85"/>
<rect x="361.66" y="405.44" width="9.4" height="9.4" fill="#fff" stroke="#111" stroke-width="0.85"/>
<rect x="383.72" y="345.8" width="9.4" height="9.4" fill="#fff" stroke="#111" stroke-width="0.85"/>
<path d="M328.25 456.02L368.87 417.37L385.91 350.5" stroke="#1a1a1a" stroke-width="0.8" fill="none"/>
<path d="M328.25 453.42L328.25 458.62M325.65 456.02L330.86 456.02" stroke="#111" stroke-width="0.7" fill="none"/>
<path d="M368.87 414.77L368.87 419.97M366.27 417.37L371.47 417.37" stroke="#111" stroke-width="0.7" fill="none"/>
<path d="M328.25 451.44L371.62 417.37L388.42 350.5" stroke="#1a1a1a" stroke-width="0.8" fill="none"/>
<path d="M328.25 451.44L368.37 371.95L388.42 350.5" stroke="#1a1a1a" stroke-width="0.8" fill="none"/>
<circle cx="328.25" cy="451.44" r="2.5" fill="#fff" stroke="#111" stroke-width="0.85"/>
<circle cx="368.37" cy="371.95" r="2.5" fill="#fff" stroke="#111" stroke-width="0.85"/>
<circle cx="388.42" cy="350.5" r="2.5" fill="#fff" stroke="#111" stroke-width="0.85"/>
<path d="M328.25 421.61L343.3 453.73" stroke="#1a1a1a" stroke-width="0.8" fill="none"/>
</g>
<g id="pG">
<path d="M60.75 503.75L60.75 619L272.6 619M57.95 619L60.75 619M57.95 595.95L60.75 595.95M57.95 572.9L60.75 572.9M57.95 549.85L60.75 549.85M57.95 526.8L60.75 526.8M57.95 503.75L60.75 503.75M87.23 619L87.23 622M113.71 619L113.71 622M140.19 619L140.19 622M166.68 619L166.68 622M193.16 619L193.16 622M219.64 619L219.64 622M246.12 619L246.12 622M272.6 619L272.6 622" stroke="#606060" stroke-width="0.9" fill="none"/>
<text class="t" transform="translate(55.35 623.05) scale(1.08 1)" text-anchor="end">0</text>
<text class="t" transform="translate(55.35 600) scale(1.08 1)" text-anchor="end">20</text>
<text class="t" transform="translate(55.35 576.95) scale(1.08 1)" text-anchor="end">40</text>
<text class="t" transform="translate(55.35 553.9) scale(1.08 1)" text-anchor="end">60</text>
<text class="t" transform="translate(55.35 530.85) scale(1.08 1)" text-anchor="end">80</text>
<text class="t" transform="translate(55.35 507.8) scale(1.08 1)" text-anchor="end">100</text>
<path d="M81.94 614.39L124.31 618.42L145.49 618.77" stroke="#1a1a1a" stroke-width="0.8" fill="none"/>
<path d="M79.34 611.79L84.53 616.99M79.34 616.99L84.53 611.79" stroke="#111" stroke-width="1" fill="none"/>
<path d="M121.71 615.82L126.91 621.02M121.71 621.02L126.91 615.82" stroke="#111" stroke-width="1" fill="none"/>
<path d="M142.89 616.17L148.09 621.37M142.89 621.37L148.09 616.17" stroke="#111" stroke-width="1" fill="none"/>
<path d="M81.94 609.78L124.31 617.85L145.49 614.62" stroke="#1a1a1a" stroke-width="0.8" fill="none"/>
<circle cx="81.94" cy="609.78" r="2.5" fill="#fff" stroke="#111" stroke-width="0.85"/>
<circle cx="124.31" cy="617.85" r="2.5" fill="#fff" stroke="#111" stroke-width="0.85"/>
<circle cx="145.49" cy="614.62" r="2.5" fill="#fff" stroke="#111" stroke-width="0.85"/>
<path d="M81.94 608.63L97.82 617.85L119.01 618.42L140.19 616.7L171.97 618.54L193.16 618.08L219.64 618.54L235.53 618.54L256.71 615.54" stroke="#1a1a1a" stroke-width="0.8" fill="none"/>
<circle cx="81.94" cy="608.63" r="3.05" fill="#000"/>
<circle cx="97.82" cy="617.85" r="3.05" fill="#000"/>
<circle cx="119.01" cy="618.42" r="3.05" fill="#000"/>
<circle cx="140.19" cy="616.7" r="3.05" fill="#000"/>
<circle cx="171.97" cy="618.54" r="3.05" fill="#000"/>
<circle cx="193.16" cy="618.08" r="3.05" fill="#000"/>
<circle cx="219.64" cy="618.54" r="3.05" fill="#000"/>
<circle cx="235.53" cy="618.54" r="3.05" fill="#000"/>
<circle cx="256.71" cy="615.54" r="3.05" fill="#000"/>
<path d="M81.94 599.41L97.82 616.7L119.01 616.93L140.19 617.85" stroke="#1a1a1a" stroke-width="0.8" fill="none"/>
<polygon points="81.94,596.39 79.14,601.59 84.73,601.59" fill="#000"/>
<polygon points="97.82,613.68 95.02,618.88 100.62,618.88" fill="#000"/>
<polygon points="119.01,613.91 116.21,619.11 121.81,619.11" fill="#000"/>
<polygon points="140.19,614.83 137.39,620.03 142.99,620.03" fill="#000"/>
<path d="M81.94 607.48L97.82 618.54L119.01 618.54L140.19 618.54L171.97 618.54M235.53 618.54L256.71 618.54" stroke="#1a1a1a" stroke-width="0.8" fill="none"/>
<rect x="78.89" y="604.43" width="6.1" height="6.1" fill="#000"/>
<rect x="94.77" y="615.49" width="6.1" height="6.1" fill="#000"/>
<rect x="115.96" y="615.49" width="6.1" height="6.1" fill="#000"/>
<rect x="137.14" y="615.49" width="6.1" height="6.1" fill="#000"/>
<rect x="168.92" y="615.49" width="6.1" height="6.1" fill="#000"/>
<rect x="190.11" y="615.03" width="6.1" height="6.1" fill="#000"/>
<rect x="216.59" y="615.49" width="6.1" height="6.1" fill="#000"/>
<rect x="232.48" y="615.49" width="6.1" height="6.1" fill="#000"/>
<rect x="253.66" y="615.49" width="6.1" height="6.1" fill="#000"/>
<path d="M81.94 602.87L97.82 597.33L119.01 588.57L140.19 617.85" stroke="#1a1a1a" stroke-width="0.8" fill="none"/>
<polygon points="81.94,606 78.73,600.6 85.14,600.6" fill="#000"/>
<polygon points="97.82,600.46 94.62,595.06 101.02,595.06" fill="#000"/>
<polygon points="119.01,591.71 115.81,586.31 122.21,586.31" fill="#000"/>
<polygon points="140.19,620.98 136.99,615.58 143.39,615.58" fill="#000"/>
<path d="M81.94 604.02L97.82 579.01L119.01 588.57" stroke="#1a1a1a" stroke-width="0.8" fill="none"/>
<polygon points="81.94,600.92 85.03,604.02 81.94,607.12 78.84,604.02" fill="#000"/>
<polygon points="97.82,575.91 100.92,579.01 97.82,582.11 94.72,579.01" fill="#000"/>
<polygon points="119.01,585.47 122.11,588.57 119.01,591.67 115.91,588.57" fill="#000"/>
<polygon points="140.19,614.75 143.29,617.85 140.19,620.95 137.09,617.85" fill="#000"/>
<path d="M81.94 604.02L97.82 592.72L119.01 598.49L140.19 603.79L171.97 608.17L193.16 568.41L219.64 581.66L235.53 581.66L256.71 598.02" stroke="#1a1a1a" stroke-width="0.8" fill="none"/>
<rect x="78.89" y="600.97" width="6.1" height="6.1" fill="#000"/>
<rect x="94.77" y="589.67" width="6.1" height="6.1" fill="#000"/>
<rect x="115.96" y="595.44" width="6.1" height="6.1" fill="#000"/>
<rect x="137.14" y="600.74" width="6.1" height="6.1" fill="#000"/>
<rect x="168.92" y="605.12" width="6.1" height="6.1" fill="#000"/>
<rect x="190.11" y="565.36" width="6.1" height="6.1" fill="#000"/>
<rect x="216.59" y="578.61" width="6.1" height="6.1" fill="#000"/>
<rect x="232.48" y="578.61" width="6.1" height="6.1" fill="#000"/>
<rect x="253.66" y="594.97" width="6.1" height="6.1" fill="#000"/>
<path d="M81.94 604.02L97.82 585.92L119.01 588.57L140.19 579.35L171.97 568.41L193.16 531.53L219.64 525.07L235.53 506.06L256.71 506.06" stroke="#1a1a1a" stroke-width="0.8" fill="none"/>
<polygon points="97.82,582.62 94.77,588.32 100.87,588.32" fill="#fff" stroke="#111" stroke-width="0.85"/>
<polygon points="140.19,576.05 137.14,581.75 143.24,581.75" fill="#fff" stroke="#111" stroke-width="0.85"/>
<polygon points="171.97,565.1 168.92,570.8 175.02,570.8" fill="#fff" stroke="#111" stroke-width="0.85"/>
<polygon points="193.16,528.22 190.11,533.92 196.21,533.92" fill="#fff" stroke="#111" stroke-width="0.85"/>
<polygon points="219.64,521.77 216.59,527.47 222.69,527.47" fill="#fff" stroke="#111" stroke-width="0.85"/>
<polygon points="235.53,502.75 232.48,508.45 238.58,508.45" fill="#fff" stroke="#111" stroke-width="0.85"/>
<polygon points="256.71,502.75 253.66,508.45 259.76,508.45" fill="#fff" stroke="#111" stroke-width="0.85"/>
<polygon points="119.01,585.56 116.21,590.76 121.81,590.76" fill="#000"/><polygon points="119.01,591.59 116.21,586.39 121.81,586.39" fill="#000"/>
<path d="M81.94 601.14L119.01 514.12L140.19 514.12L171.97 506.86L193.16 603.79L219.64 595.49L235.53 581.66L256.71 611.16" stroke="#1a1a1a" stroke-width="0.8" fill="none"/>
<polygon points="81.94,598.04 85.03,601.14 81.94,604.24 78.84,601.14" fill="#000"/>
<polygon points="119.01,511.02 122.11,514.12 119.01,517.22 115.91,514.12" fill="#000"/>
<polygon points="140.19,511.02 143.29,514.12 140.19,517.22 137.09,514.12" fill="#000"/>
<polygon points="171.97,503.76 175.07,506.86 171.97,509.96 168.87,506.86" fill="#000"/>
<polygon points="193.16,600.69 196.26,603.79 193.16,606.89 190.06,603.79" fill="#000"/>
<polygon points="219.64,592.39 222.74,595.49 219.64,598.59 216.54,595.49" fill="#000"/>
<polygon points="235.53,578.56 238.63,581.66 235.53,584.76 232.43,581.66" fill="#000"/>
<polygon points="256.71,608.06 259.81,611.16 256.71,614.26 253.61,611.16" fill="#000"/>
<path d="M81.94 608.63L124.31 503.75L145.49 503.75" stroke="#1a1a1a" stroke-width="0.8" fill="none"/>
<polygon points="124.31,500.75 127.31,503.75 124.31,506.75 121.31,503.75" fill="#fff" stroke="#111" stroke-width="0.85"/>
<polygon points="145.49,500.75 148.49,503.75 145.49,506.75 142.49,503.75" fill="#fff" stroke="#111" stroke-width="0.85"/>
<circle cx="256.71" cy="611.16" r="3.05" fill="#000"/>
<polygon points="81.94,596.39 79.14,601.59 84.73,601.59" fill="#000"/>
</g>
<g id="pH">
<path d="M308.1 504L308.1 619L508 619M305.3 619L308.1 619M305.3 596L308.1 596M305.3 573L308.1 573M305.3 550L308.1 550M305.3 527L308.1 527M305.3 504L308.1 504M333.09 619L333.09 622M358.08 619L358.08 622M383.06 619L383.06 622M408.05 619L408.05 622M433.04 619L433.04 622M458.02 619L458.02 622M483.01 619L483.01 622M508 619L508 622" stroke="#747474" stroke-width="0.9" fill="none"/>
<path d="M328.09 615.78L368.07 619L388.06 619" stroke="#1a1a1a" stroke-width="0.8" fill="none"/>
<path d="M325.49 613.18L330.69 618.38M325.49 618.38L330.69 613.18" stroke="#111" stroke-width="1" fill="none"/>
<path d="M365.47 616.4L370.67 621.6M365.47 621.6L370.67 616.4" stroke="#111" stroke-width="1" fill="none"/>
<path d="M385.46 616.4L390.66 621.6M385.46 621.6L390.66 616.4" stroke="#111" stroke-width="1" fill="none"/>
<path d="M328.09 610.03L368.07 618.08L388.06 618.08" stroke="#1a1a1a" stroke-width="0.8" fill="none"/>
<polygon points="328.09,613.05 325.19,607.85 330.99,607.85" fill="#fff" stroke="#111" stroke-width="0.85"/>
<polygon points="368.07,621.1 365.17,615.9 370.97,615.9" fill="#fff" stroke="#111" stroke-width="0.85"/>
<polygon points="388.06,621.1 385.16,615.9 390.96,615.9" fill="#fff" stroke="#111" stroke-width="0.85"/>
<path d="M328.09 596L343.08 616.7L363.07 618.42L383.06 618.42" stroke="#1a1a1a" stroke-width="0.8" fill="none"/>
<polygon points="343.08,613.68 340.28,618.88 345.88,618.88" fill="#000"/>
<polygon points="363.07,615.41 360.27,620.61 365.87,620.61" fill="#000"/>
<polygon points="383.06,615.41 380.26,620.61 385.86,620.61" fill="#000"/>
<path d="M328.09 604.74L343.08 618.08L363.07 618.77L383.06 618.08L413.05 618.77L433.04 618.77L458.02 618.77L473.02 618.77L493.01 618.77" stroke="#1a1a1a" stroke-width="0.8" fill="none"/>
<rect x="325.04" y="601.69" width="6.1" height="6.1" fill="#000"/>
<rect x="340.03" y="615.03" width="6.1" height="6.1" fill="#000"/>
<rect x="360.02" y="615.72" width="6.1" height="6.1" fill="#000"/>
<rect x="380.01" y="615.03" width="6.1" height="6.1" fill="#000"/>
<rect x="410" y="615.72" width="6.1" height="6.1" fill="#000"/>
<rect x="429.99" y="615.72" width="6.1" height="6.1" fill="#000"/>
<rect x="454.97" y="615.72" width="6.1" height="6.1" fill="#000"/>
<rect x="469.97" y="615.72" width="6.1" height="6.1" fill="#000"/>
<rect x="489.96" y="615.72" width="6.1" height="6.1" fill="#000"/>
<path d="M328.09 589.22L368.07 593.82L388.06 597.96" stroke="#1a1a1a" stroke-width="0.8" fill="none"/>
<circle cx="328.09" cy="589.22" r="2.5" fill="#fff" stroke="#111" stroke-width="0.85"/>
<circle cx="368.07" cy="593.82" r="2.5" fill="#fff" stroke="#111" stroke-width="0.85"/>
<circle cx="388.06" cy="597.96" r="2.5" fill="#fff" stroke="#111" stroke-width="0.85"/>
<path d="M328.09 593.7L368.07 589.22L388.06 545.4" stroke="#1a1a1a" stroke-width="0.8" fill="none"/>
<polygon points="328.09,590.7 331.09,593.7 328.09,596.7 325.09,593.7" fill="#fff" stroke="#111" stroke-width="0.85"/>
<polygon points="368.07,586.22 371.07,589.22 368.07,592.22 365.07,589.22" fill="#fff" stroke="#111" stroke-width="0.85"/>
<polygon points="388.06,542.4 391.06,545.4 388.06,548.4 385.06,545.4" fill="#fff" stroke="#111" stroke-width="0.85"/>
<path d="M328.09 581.05L343.08 568.4L363.07 594.5L383.06 617.85" stroke="#1a1a1a" stroke-width="0.8" fill="none"/>
<polygon points="328.09,584.18 324.89,578.78 331.29,578.78" fill="#000"/>
<polygon points="343.08,571.53 339.88,566.13 346.28,566.13" fill="#000"/>
<polygon points="363.07,597.64 359.87,592.24 366.27,592.24" fill="#000"/>
<polygon points="383.06,620.98 379.86,615.58 386.26,615.58" fill="#000"/>
<path d="M328.09 576.57L343.08 556.9L363.07 594.5L383.06 596.12L413.05 590.37L433.04 583.35L458.02 576.79L473.02 576.79L493.01 560" stroke="#1a1a1a" stroke-width="0.8" fill="none"/>
<rect x="325.04" y="573.52" width="6.1" height="6.1" fill="#000"/>
<rect x="340.03" y="553.85" width="6.1" height="6.1" fill="#000"/>
<rect x="360.02" y="591.46" width="6.1" height="6.1" fill="#000"/>
<rect x="380.01" y="593.07" width="6.1" height="6.1" fill="#000"/>
<rect x="410" y="587.32" width="6.1" height="6.1" fill="#000"/>
<rect x="429.99" y="580.3" width="6.1" height="6.1" fill="#000"/>
<rect x="454.97" y="573.75" width="6.1" height="6.1" fill="#000"/>
<rect x="469.97" y="573.75" width="6.1" height="6.1" fill="#000"/>
<rect x="489.96" y="556.96" width="6.1" height="6.1" fill="#000"/>
<path d="M328.09 585.76L343.08 581.16L363.07 592.55L383.06 588.07L413.05 585.76L433.04 573.23L458.02 552.53L473.02 538.73L493.01 535.51" stroke="#1a1a1a" stroke-width="0.8" fill="none"/>
<polygon points="328.09,582.46 325.04,588.16 331.14,588.16" fill="#fff" stroke="#111" stroke-width="0.85"/>
<polygon points="343.08,577.86 340.03,583.56 346.13,583.56" fill="#fff" stroke="#111" stroke-width="0.85"/>
<polygon points="383.06,584.76 380.01,590.46 386.11,590.46" fill="#fff" stroke="#111" stroke-width="0.85"/>
<polygon points="413.05,582.46 410,588.16 416.1,588.16" fill="#fff" stroke="#111" stroke-width="0.85"/>
<polygon points="433.04,569.92 429.99,575.62 436.09,575.62" fill="#fff" stroke="#111" stroke-width="0.85"/>
<polygon points="458.02,549.22 454.97,554.92 461.07,554.92" fill="#fff" stroke="#111" stroke-width="0.85"/>
<polygon points="473.02,535.42 469.97,541.12 476.07,541.12" fill="#fff" stroke="#111" stroke-width="0.85"/>
<polygon points="493.01,532.2 489.96,537.9 496.06,537.9" fill="#fff" stroke="#111" stroke-width="0.85"/>
<path d="M328.09 596.12L343.08 589.67L363.07 564.26L383.06 564.26L413.05 512.39L433.04 610.72L458.02 610.03L473.02 611.99L493.01 613.25" stroke="#1a1a1a" stroke-width="0.8" fill="none"/>
<polygon points="328.09,593.01 331.19,596.12 328.09,599.22 324.99,596.12" fill="#000"/>
<polygon points="343.08,586.57 346.18,589.67 343.08,592.77 339.98,589.67" fill="#000"/>
<polygon points="363.07,561.16 366.17,564.26 363.07,567.36 359.97,564.26" fill="#000"/>
<polygon points="383.06,561.16 386.16,564.26 383.06,567.36 379.96,564.26" fill="#000"/>
<polygon points="413.05,509.29 416.15,512.39 413.05,515.5 409.95,512.39" fill="#000"/>
<polygon points="433.04,607.62 436.14,610.72 433.04,613.82 429.94,610.72" fill="#000"/>
<polygon points="458.02,606.93 461.12,610.03 458.02,613.13 454.92,610.03" fill="#000"/>
<polygon points="473.02,608.88 476.12,611.99 473.02,615.09 469.92,611.99" fill="#000"/>
<polygon points="493.01,610.15 496.11,613.25 493.01,616.35 489.91,613.25" fill="#000"/>
<path d="M328.09 577.6L368.07 593.7" stroke="#1a1a1a" stroke-width="0.8" fill="none"/>
</g>
<g id="pI">
<path d="M60.5 658.75L60.5 773.5L274 773.5M57.7 773.5L60.5 773.5M57.7 750.55L60.5 750.55M57.7 727.6L60.5 727.6M57.7 704.65L60.5 704.65M57.7 681.7L60.5 681.7M57.7 658.75L60.5 658.75M87.19 773.5L87.19 776.5M113.88 773.5L113.88 776.5M140.56 773.5L140.56 776.5M167.25 773.5L167.25 776.5M193.94 773.5L193.94 776.5M220.62 773.5L220.62 776.5M247.31 773.5L247.31 776.5M274 773.5L274 776.5" stroke="#606060" stroke-width="0.9" fill="none"/>
<text class="t" transform="translate(55.1 777.55) scale(1.08 1)" text-anchor="end">0</text>
<text class="t" transform="translate(55.1 754.6) scale(1.08 1)" text-anchor="end">20</text>
<text class="t" transform="translate(55.1 731.65) scale(1.08 1)" text-anchor="end">40</text>
<text class="t" transform="translate(55.1 708.7) scale(1.08 1)" text-anchor="end">60</text>
<text class="t" transform="translate(55.1 685.75) scale(1.08 1)" text-anchor="end">80</text>
<text class="t" transform="translate(55.1 662.8) scale(1.08 1)" text-anchor="end">100</text>
<text class="t" transform="translate(60.4 788.4) scale(1.06 1)" text-anchor="middle">0</text>
<text class="t" transform="translate(87.09 788.4) scale(1.06 1)" text-anchor="middle">5</text>
<text class="t" transform="translate(113.78 788.4) scale(1.06 1)" text-anchor="middle">10</text>
<text class="t" transform="translate(140.46 788.4) scale(1.06 1)" text-anchor="middle">15</text>
<text class="t" transform="translate(167.15 788.4) scale(1.06 1)" text-anchor="middle">20</text>
<text class="t" transform="translate(193.84 788.4) scale(1.06 1)" text-anchor="middle">25</text>
<text class="t" transform="translate(220.53 788.4) scale(1.06 1)" text-anchor="middle">30</text>
<text class="t" transform="translate(247.21 788.4) scale(1.06 1)" text-anchor="middle">35</text>
<text class="t" transform="translate(273.9 788.4) scale(1.06 1)" text-anchor="middle">40</text>
<path d="M81.85 758.58L124.55 658.52L145.9 658.52M124.55 658.52v-2.8M145.9 658.52v-2.8" stroke="#1a1a1a" stroke-width="0.8" fill="none"/>
<path d="M81.85 770.06L124.55 770.98L145.9 770.98" stroke="#1a1a1a" stroke-width="0.8" fill="none"/>
<rect x="79.1" y="767.31" width="5.5" height="5.5" fill="#fff" stroke="#111" stroke-width="0.85"/>
<rect x="121.8" y="768.23" width="5.5" height="5.5" fill="#fff" stroke="#111" stroke-width="0.85"/>
<rect x="143.15" y="768.23" width="5.5" height="5.5" fill="#fff" stroke="#111" stroke-width="0.85"/>
<path d="M81.85 767.76L124.55 766.62L145.9 767.19" stroke="#1a1a1a" stroke-width="0.8" fill="none"/>
<rect x="79.1" y="765.01" width="5.5" height="5.5" fill="#fff" stroke="#111" stroke-width="0.85"/>
<rect x="121.8" y="763.87" width="5.5" height="5.5" fill="#fff" stroke="#111" stroke-width="0.85"/>
<rect x="143.15" y="764.44" width="5.5" height="5.5" fill="#fff" stroke="#111" stroke-width="0.85"/>
<path d="M81.85 765.47L124.55 764.32L145.9 763.29" stroke="#1a1a1a" stroke-width="0.8" fill="none"/>
<rect x="79.1" y="762.72" width="5.5" height="5.5" fill="#fff" stroke="#111" stroke-width="0.85"/>
<rect x="121.8" y="761.57" width="5.5" height="5.5" fill="#fff" stroke="#111" stroke-width="0.85"/>
<rect x="143.15" y="760.54" width="5.5" height="5.5" fill="#fff" stroke="#111" stroke-width="0.85"/>
<path d="M81.85 763.17L124.55 762.71L145.9 764.32" stroke="#1a1a1a" stroke-width="0.8" fill="none"/>
<circle cx="81.85" cy="763.17" r="2.5" fill="#fff" stroke="#111" stroke-width="0.85"/>
<circle cx="124.55" cy="762.71" r="2.5" fill="#fff" stroke="#111" stroke-width="0.85"/>
<circle cx="145.9" cy="764.32" r="2.5" fill="#fff" stroke="#111" stroke-width="0.85"/>
<path d="M81.85 760.88L124.55 763.17L145.9 757.55" stroke="#1a1a1a" stroke-width="0.8" fill="none"/>
<polygon points="81.85,763.89 78.95,758.69 84.75,758.69" fill="#fff" stroke="#111" stroke-width="0.85"/>
<polygon points="145.9,760.57 143,755.37 148.8,755.37" fill="#fff" stroke="#111" stroke-width="0.85"/>
<path d="M81.85 756.29L124.55 754.68L145.9 762.02" stroke="#1a1a1a" stroke-width="0.8" fill="none"/>
<polygon points="81.85,752.98 78.8,758.68 84.9,758.68" fill="#fff" stroke="#111" stroke-width="0.85"/>
<polygon points="124.55,751.38 121.5,757.08 127.6,757.08" fill="#fff" stroke="#111" stroke-width="0.85"/>
<polygon points="145.9,758.72 142.85,764.42 148.95,764.42" fill="#fff" stroke="#111" stroke-width="0.85"/>
<path d="M81.85 765.47L97.86 773.04L119.21 773.04L140.56 773.04L172.59 773.04L193.94 773.04L220.62 773.04L236.64 773.04L257.99 773.04" stroke="#1a1a1a" stroke-width="0.8" fill="none"/>
<circle cx="81.85" cy="765.47" r="3.05" fill="#000"/>
<circle cx="97.86" cy="773.04" r="3.05" fill="#000"/>
<circle cx="119.21" cy="773.04" r="3.05" fill="#000"/>
<circle cx="140.56" cy="773.04" r="3.05" fill="#000"/>
<circle cx="172.59" cy="773.04" r="3.05" fill="#000"/>
<circle cx="193.94" cy="773.04" r="3.05" fill="#000"/>
<circle cx="220.62" cy="773.04" r="3.05" fill="#000"/>
<circle cx="236.64" cy="773.04" r="3.05" fill="#000"/>
<circle cx="257.99" cy="773.04" r="3.05" fill="#000"/>
<path d="M81.85 763.17L97.86 763.29L119.21 773.04" stroke="#1a1a1a" stroke-width="0.8" fill="none"/>
<circle cx="81.85" cy="763.17" r="3.05" fill="#000"/>
<circle cx="97.86" cy="763.29" r="3.05" fill="#000"/>
<circle cx="119.21" cy="773.04" r="3.05" fill="#000"/>
<path d="M81.85 754.68L97.86 763.17L119.21 766.62L140.56 767.76L172.59 768.91L193.94 767.76L220.62 768.91L236.64 768.91L257.99 768.91" stroke="#1a1a1a" stroke-width="0.8" fill="none"/>
<polygon points="81.85,751.67 79.05,756.87 84.65,756.87" fill="#000"/>
<polygon points="97.86,760.16 95.06,765.36 100.66,765.36" fill="#000"/>
<polygon points="119.21,763.6 116.41,768.8 122.01,768.8" fill="#000"/>
<polygon points="140.56,764.75 137.76,769.95 143.36,769.95" fill="#000"/>
<polygon points="172.59,765.89 169.79,771.09 175.39,771.09" fill="#000"/>
<polygon points="193.94,764.75 191.14,769.95 196.74,769.95" fill="#000"/>
<polygon points="220.62,765.89 217.82,771.09 223.43,771.09" fill="#000"/>
<polygon points="236.64,765.89 233.84,771.09 239.44,771.09" fill="#000"/>
<polygon points="257.99,765.89 255.19,771.09 260.79,771.09" fill="#000"/>
<path d="M81.85 764.32L97.86 763.29L119.21 765.47L140.56 765.47L172.59 766.62L193.94 765.47L220.62 766.62L236.64 767.19L257.99 767.76" stroke="#1a1a1a" stroke-width="0.8" fill="none"/>
<polygon points="81.85,761.22 84.95,764.32 81.85,767.42 78.75,764.32" fill="#000"/>
<polygon points="97.86,760.19 100.96,763.29 97.86,766.39 94.76,763.29" fill="#000"/>
<polygon points="119.21,762.37 122.31,765.47 119.21,768.57 116.11,765.47" fill="#000"/>
<polygon points="140.56,762.37 143.66,765.47 140.56,768.57 137.46,765.47" fill="#000"/>
<polygon points="172.59,763.51 175.69,766.62 172.59,769.72 169.49,766.62" fill="#000"/>
<polygon points="193.94,762.37 197.04,765.47 193.94,768.57 190.84,765.47" fill="#000"/>
<polygon points="220.62,763.51 223.72,766.62 220.62,769.72 217.53,766.62" fill="#000"/>
<polygon points="236.64,764.09 239.74,767.19 236.64,770.29 233.54,767.19" fill="#000"/>
<polygon points="257.99,764.66 261.09,767.76 257.99,770.86 254.89,767.76" fill="#000"/>
<path d="M81.85 762.02L97.86 764.32L119.21 763.75L140.56 763.17L172.59 763.17L193.94 763.17L220.62 764.32L236.64 763.17L257.99 765.47" stroke="#1a1a1a" stroke-width="0.8" fill="none"/>
<polygon points="81.85,765.16 78.65,759.76 85.05,759.76" fill="#000"/>
<polygon points="97.86,767.45 94.66,762.05 101.06,762.05" fill="#000"/>
<polygon points="119.21,766.88 116.01,761.48 122.41,761.48" fill="#000"/>
<polygon points="140.56,766.3 137.36,760.9 143.76,760.9" fill="#000"/>
<polygon points="172.59,766.3 169.39,760.9 175.79,760.9" fill="#000"/>
<polygon points="193.94,766.3 190.74,760.9 197.14,760.9" fill="#000"/>
<polygon points="220.62,767.45 217.43,762.05 223.82,762.05" fill="#000"/>
<polygon points="236.64,766.3 233.44,760.9 239.84,760.9" fill="#000"/>
<polygon points="257.99,768.6 254.79,763.2 261.19,763.2" fill="#000"/>
<path d="M81.85 759.73L97.86 763.17L119.21 761.34L140.56 760.42L172.59 759.73L193.94 760.53L220.62 761.8L236.64 760.53L257.99 762.48" stroke="#1a1a1a" stroke-width="0.8" fill="none"/>
<rect x="78.8" y="756.68" width="6.1" height="6.1" fill="#000"/>
<rect x="94.81" y="760.12" width="6.1" height="6.1" fill="#000"/>
<rect x="116.16" y="758.29" width="6.1" height="6.1" fill="#000"/>
<rect x="137.51" y="757.37" width="6.1" height="6.1" fill="#000"/>
<rect x="169.54" y="756.68" width="6.1" height="6.1" fill="#000"/>
<rect x="190.89" y="757.48" width="6.1" height="6.1" fill="#000"/>
<rect x="217.57" y="758.75" width="6.1" height="6.1" fill="#000"/>
<rect x="233.59" y="757.48" width="6.1" height="6.1" fill="#000"/>
<rect x="254.94" y="759.43" width="6.1" height="6.1" fill="#000"/>
<path d="M81.85 768.91L97.86 765.47L119.21 764.32L140.56 764.32" stroke="#1a1a1a" stroke-width="0.8" fill="none"/>
<rect x="78.8" y="765.86" width="6.1" height="6.1" fill="#000"/>
<rect x="94.81" y="762.42" width="6.1" height="6.1" fill="#000"/>
<rect x="116.16" y="761.27" width="6.1" height="6.1" fill="#000"/>
<rect x="137.51" y="761.27" width="6.1" height="6.1" fill="#000"/>
</g>
<g id="pJ">
<path d="M308.3 659L308.3 773.75L512.5 773.75M305.5 773.75L308.3 773.75M305.5 750.8L308.3 750.8M305.5 727.85L308.3 727.85M305.5 704.9L308.3 704.9M305.5 681.95L308.3 681.95M305.5 659L308.3 659M333.82 773.75L333.82 776.75M359.35 773.75L359.35 776.75M384.88 773.75L384.88 776.75M410.4 773.75L410.4 776.75M435.93 773.75L435.93 776.75M461.45 773.75L461.45 776.75M486.98 773.75L486.98 776.75M512.5 773.75L512.5 776.75" stroke="#747474" stroke-width="0.9" fill="none"/>
<text class="t" transform="translate(308.2 788.65) scale(1.0 1)" text-anchor="middle">0</text>
<text class="t" transform="translate(333.72 788.65) scale(1.0 1)" text-anchor="middle">5</text>
<text class="t" transform="translate(359.25 788.65) scale(1.0 1)" text-anchor="middle">10</text>
<text class="t" transform="translate(384.77 788.65) scale(1.0 1)" text-anchor="middle">15</text>
<text class="t" transform="translate(410.3 788.65) scale(1.0 1)" text-anchor="middle">20</text>
<text class="t" transform="translate(435.82 788.65) scale(1.0 1)" text-anchor="middle">25</text>
<text class="t" transform="translate(461.35 788.65) scale(1.0 1)" text-anchor="middle">30</text>
<text class="t" transform="translate(486.88 788.65) scale(1.0 1)" text-anchor="middle">35</text>
<text class="t" transform="translate(512.4 788.65) scale(1.0 1)" text-anchor="middle">40</text>
<path d="M328.72 736.11L369.56 659L389.98 659M369.56 659v-2.8M389.98 659v-2.8" stroke="#1a1a1a" stroke-width="0.8" fill="none"/>
<path d="M328.72 766.87L369.56 771.46L389.98 771.46" stroke="#1a1a1a" stroke-width="0.8" fill="none"/>
<path d="M326.12 764.26L331.32 769.47M326.12 769.47L331.32 764.26" stroke="#111" stroke-width="1" fill="none"/>
<path d="M366.96 768.86L372.16 774.06M366.96 774.06L372.16 768.86" stroke="#111" stroke-width="1" fill="none"/>
<path d="M387.38 768.86L392.58 774.06M387.38 774.06L392.58 768.86" stroke="#111" stroke-width="1" fill="none"/>
<path d="M328.72 768.01L369.56 772.03L389.98 771.46" stroke="#1a1a1a" stroke-width="0.8" fill="none"/>
<rect x="325.97" y="765.26" width="5.5" height="5.5" fill="#fff" stroke="#111" stroke-width="0.85"/>
<rect x="366.81" y="769.28" width="5.5" height="5.5" fill="#fff" stroke="#111" stroke-width="0.85"/>
<rect x="387.23" y="768.71" width="5.5" height="5.5" fill="#fff" stroke="#111" stroke-width="0.85"/>
<path d="M328.72 762.27L369.56 765.72L389.98 768.01" stroke="#1a1a1a" stroke-width="0.8" fill="none"/>
<polygon points="328.72,765.29 325.82,760.09 331.62,760.09" fill="#fff" stroke="#111" stroke-width="0.85"/>
<path d="M328.72 753.1L369.56 770.31L389.98 771.46" stroke="#1a1a1a" stroke-width="0.8" fill="none"/>
<circle cx="328.72" cy="753.1" r="2.5" fill="#fff" stroke="#111" stroke-width="0.85"/>
<path d="M328.72 770.31L344.04 773.06L364.45 773.06L384.88 773.06L415.5 773.29L435.93 773.29L461.45 773.29L476.76 773.29L497.19 773.29" stroke="#1a1a1a" stroke-width="0.8" fill="none"/>
<circle cx="328.72" cy="770.31" r="3.05" fill="#000"/>
<circle cx="344.04" cy="773.06" r="3.05" fill="#000"/>
<circle cx="364.45" cy="773.06" r="3.05" fill="#000"/>
<circle cx="384.88" cy="773.06" r="3.05" fill="#000"/>
<circle cx="415.5" cy="773.29" r="3.05" fill="#000"/>
<circle cx="435.93" cy="773.29" r="3.05" fill="#000"/>
<circle cx="461.45" cy="773.29" r="3.05" fill="#000"/>
<circle cx="476.76" cy="773.29" r="3.05" fill="#000"/>
<circle cx="497.19" cy="773.29" r="3.05" fill="#000"/>
<path d="M328.72 754.24L344.04 764.57L364.45 769.16L384.88 769.16L415.5 768.59L435.93 768.59L461.45 768.01L476.76 769.16L497.19 768.01" stroke="#1a1a1a" stroke-width="0.8" fill="none"/>
<polygon points="328.72,751.14 331.82,754.24 328.72,757.34 325.62,754.24" fill="#000"/>
<polygon points="344.04,761.47 347.14,764.57 344.04,767.67 340.94,764.57" fill="#000"/>
<polygon points="364.45,766.06 367.56,769.16 364.45,772.26 361.35,769.16" fill="#000"/>
<polygon points="384.88,766.06 387.98,769.16 384.88,772.26 381.77,769.16" fill="#000"/>
<polygon points="415.5,765.49 418.61,768.59 415.5,771.69 412.4,768.59" fill="#000"/>
<polygon points="435.93,765.49 439.03,768.59 435.93,771.69 432.82,768.59" fill="#000"/>
<polygon points="461.45,764.91 464.55,768.01 461.45,771.11 458.35,768.01" fill="#000"/>
<polygon points="476.76,766.06 479.87,769.16 476.76,772.26 473.66,769.16" fill="#000"/>
<polygon points="497.19,764.91 500.29,768.01 497.19,771.11 494.08,768.01" fill="#000"/>
<path d="M328.72 746.21L344.04 762.27L364.45 766.87L384.88 768.01L415.5 768.01L435.93 768.01L461.45 766.87L476.76 768.01L497.19 769.16" stroke="#1a1a1a" stroke-width="0.8" fill="none"/>
<polygon points="328.72,749.34 325.52,743.94 331.92,743.94" fill="#000"/>
<polygon points="344.04,765.41 340.84,760.01 347.24,760.01" fill="#000"/>
<polygon points="364.45,770 361.25,764.6 367.65,764.6" fill="#000"/>
<polygon points="384.88,771.14 381.68,765.74 388.07,765.74" fill="#000"/>
<polygon points="415.5,771.14 412.31,765.74 418.7,765.74" fill="#000"/>
<polygon points="435.93,771.14 432.73,765.74 439.12,765.74" fill="#000"/>
<polygon points="461.45,770 458.25,764.6 464.65,764.6" fill="#000"/>
<polygon points="476.76,771.14 473.56,765.74 479.96,765.74" fill="#000"/>
<polygon points="497.19,772.29 493.99,766.89 500.38,766.89" fill="#000"/>
<path d="M328.72 750.8L344.04 759.98L364.45 764.57L384.88 764.57L415.5 766.87" stroke="#1a1a1a" stroke-width="0.8" fill="none"/>
<path d="M328.72 742.31L344.04 757.91L364.45 764L384.88 764L415.5 765.03L435.93 763.77L461.45 765.03L476.76 766.98L497.19 765.72" stroke="#1a1a1a" stroke-width="0.8" fill="none"/>
<rect x="325.67" y="739.26" width="6.1" height="6.1" fill="#000"/>
<rect x="340.99" y="754.86" width="6.1" height="6.1" fill="#000"/>
<rect x="361.4" y="760.95" width="6.1" height="6.1" fill="#000"/>
<rect x="381.82" y="760.95" width="6.1" height="6.1" fill="#000"/>
<rect x="412.45" y="761.98" width="6.1" height="6.1" fill="#000"/>
<rect x="432.88" y="760.72" width="6.1" height="6.1" fill="#000"/>
<rect x="458.4" y="761.98" width="6.1" height="6.1" fill="#000"/>
<rect x="473.71" y="763.93" width="6.1" height="6.1" fill="#000"/>
<rect x="494.13" y="762.67" width="6.1" height="6.1" fill="#000"/>
<path d="M328.72 712.13L344.04 742.31L364.45 753.55L384.88 753.21L415.5 764.57L435.93 765.72L461.45 761.7L476.76 768.01L497.19 764.57" stroke="#1a1a1a" stroke-width="0.8" fill="none"/>
<polygon points="328.72,709.11 325.92,714.31 331.52,714.31" fill="#000"/>
<polygon points="344.04,739.29 341.24,744.49 346.84,744.49" fill="#000"/>
<polygon points="364.45,750.54 361.65,755.74 367.25,755.74" fill="#000"/>
<polygon points="384.88,750.19 382.07,755.39 387.68,755.39" fill="#000"/>
<polygon points="415.5,761.55 412.7,766.75 418.31,766.75" fill="#000"/>
<polygon points="435.93,762.7 433.12,767.9 438.73,767.9" fill="#000"/>
<polygon points="461.45,758.69 458.65,763.89 464.25,763.89" fill="#000"/>
<polygon points="476.76,765 473.96,770.2 479.56,770.2" fill="#000"/>
<polygon points="497.19,761.55 494.38,766.75 499.99,766.75" fill="#000"/>
<path d="M328.72 764.57L369.56 768.24L389.98 766.52" stroke="#1a1a1a" stroke-width="0.8" fill="none"/>
<rect x="325.97" y="761.82" width="5.5" height="5.5" fill="#fff" stroke="#111" stroke-width="0.85"/>
<rect x="366.81" y="765.49" width="5.5" height="5.5" fill="#fff" stroke="#111" stroke-width="0.85"/>
<rect x="387.23" y="763.77" width="5.5" height="5.5" fill="#fff" stroke="#111" stroke-width="0.85"/>
<path d="M328.72 759.98L369.56 760.44L389.98 761.36" stroke="#1a1a1a" stroke-width="0.8" fill="none"/>
<polygon points="328.72,756.67 325.67,762.37 331.77,762.37" fill="#fff" stroke="#111" stroke-width="0.85"/>
<polygon points="369.56,757.13 366.51,762.83 372.61,762.83" fill="#fff" stroke="#111" stroke-width="0.85"/>
<polygon points="389.98,758.05 386.93,763.75 393.03,763.75" fill="#fff" stroke="#111" stroke-width="0.85"/>
<path d="M328.72 742.77L369.56 748.39L389.98 763.42" stroke="#1a1a1a" stroke-width="0.8" fill="none"/>
<circle cx="369.56" cy="748.39" r="2.5" fill="#fff" stroke="#111" stroke-width="0.85"/>
<path d="M328.72 750.8L369.56 742.65L389.98 766.52" stroke="#1a1a1a" stroke-width="0.8" fill="none"/>
<polygon points="369.56,739.65 372.56,742.65 369.56,745.65 366.56,742.65" fill="#fff" stroke="#111" stroke-width="0.85"/>
</g>
<text class="L" transform="translate(39.2 24.8) scale(1.07 1)">A</text>
<text class="L" transform="translate(293.21 24.3) scale(1.05 1)">B</text>
<text class="L" transform="translate(38.01 183.1) scale(1.08 1)">C</text>
<text class="L" transform="translate(293.3 182.9) scale(1.0 1)">D</text>
<text class="L" transform="translate(37.8 338.4) scale(1.0 1)">E</text>
<text class="L" transform="translate(293.3 338.4) scale(1.0 1)">F</text>
<text class="L" transform="translate(38.02 494.0) scale(1.07 1)">G</text>
<text class="L" transform="translate(293.25 494.2) scale(1.03 1)">H</text>
<text class="L" transform="translate(37.8 648.6) scale(1.0 1)">I</text>
<text class="L" transform="translate(295.5 648.7) scale(1.0 1)">J</text>
<text class="T" x="82.0" y="15.7" textLength="167" lengthAdjust="spacingAndGlyphs">Myeloid chimerism</text>
<text class="T" x="324.6" y="15.2" textLength="187" lengthAdjust="spacingAndGlyphs">Lymphoid chimerism</text>
<text class="T" x="204.8" y="816.0" textLength="173" lengthAdjust="spacingAndGlyphs">Time after BMT (wk)</text>
<text class="T" transform="translate(16.9 428.8) rotate(-90) scale(1 1.07)" textLength="120.5" lengthAdjust="spacingAndGlyphs">% donor WBC</text>
</svg>
</body></html>
